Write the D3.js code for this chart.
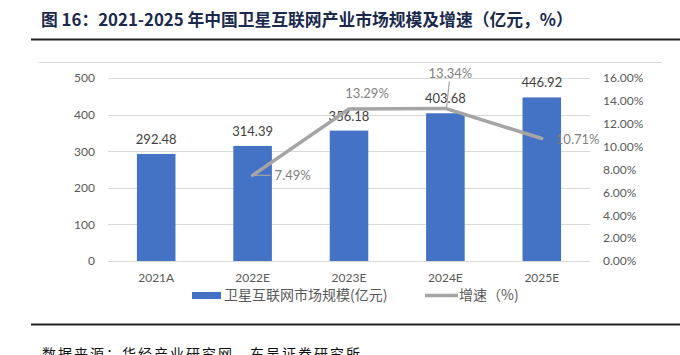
<!DOCTYPE html>
<html><head><meta charset="utf-8">
<script src="https://cdn.jsdelivr.net/npm/d3@7"></script>
<style>
body{margin:0;background:#fff;}
svg{display:block;}
text{font-family:Lato,"Noto Sans CJK SC",sans-serif;}
</style></head>
<body>
<svg id="c" width="680" height="355"></svg>
<script>
const categories = ["2021A","2022E","2023E","2024E","2025E"];
const marketSize = [292.48,314.39,356.18,403.68,446.92];
const growth = [null,7.49,13.29,13.34,10.71];
const leftTicks = [0,100,200,300,400,500];
const rightTicks = [0,2,4,6,8,10,12,14,16];
const titleText = "图 16：2021-2025 年中国卫星互联网产业市场规模及增速（亿元，%）";
const sourceText = "数据来源：华经产业研究网，东吴证券研究所";
const legendBar = "卫星互联网市场规模(亿元)";
const legendLine = "增速（%)";

const svg = d3.select("#c");
const x = d3.scaleBand().domain(categories).range([108,590]).paddingInner(0.6).paddingOuter(0.3);
const yL = d3.scaleLinear().domain([0,500]).range([261,78]);
const yR = d3.scaleLinear().domain([0,16]).range([261,78]);

// title
svg.append("text").attr("x",41).attr("y",26).attr("font-size",16.8).attr("font-weight","bold")
  .attr("fill","#1a2a4d").style("font-family",'"Noto Sans CJK SC",sans-serif').text(titleText);
svg.append("line").attr("x1",31).attr("x2",680).attr("y1",39.5).attr("y2",39.5).attr("stroke","#222").attr("stroke-width",2);
// chart top border
svg.append("line").attr("x1",39).attr("x2",662).attr("y1",62.5).attr("y2",62.5).attr("stroke","#d9d9d9").attr("stroke-width",1);

// gridlines
svg.append("g").selectAll("line").data(leftTicks).join("line")
  .attr("x1",108).attr("x2",590).attr("y1",d=>Math.round(yL(d))+0.5).attr("y2",d=>Math.round(yL(d))+0.5)
  .attr("stroke","#d9d9d9").attr("stroke-width",1);

// left axis
const axL = d3.axisLeft(yL).tickValues(leftTicks).tickSize(0).tickPadding(0);
const gL = svg.append("g").attr("transform","translate(95,0)").call(axL);
gL.select(".domain").remove();
gL.selectAll("text").attr("font-size",12).attr("fill","#595959").style("font-family","Lato,sans-serif");

// right axis
const axR = d3.axisRight(yR).tickValues(rightTicks).tickSize(0).tickPadding(0).tickFormat(d=>d.toFixed(2)+"%");
const gR = svg.append("g").attr("transform","translate(603,0)").call(axR);
gR.select(".domain").remove();
gR.selectAll("text").attr("font-size",12).attr("fill","#595959").style("font-family","Lato,sans-serif");

// x axis
const axX = d3.axisBottom(x).tickSize(0).tickPadding(0);
const gX = svg.append("g").attr("transform","translate(0,273)").call(axX);
gX.select(".domain").remove();
gX.selectAll("text").attr("font-size",12).attr("fill","#595959").style("font-family","Lato,sans-serif");

// bars
svg.append("g").selectAll("rect").data(marketSize).join("rect")
  .attr("x",(d,i)=>x(categories[i])).attr("width",x.bandwidth())
  .attr("y",d=>yL(d)).attr("height",d=>yL(0)-yL(d)).attr("fill","#4472c4");
svg.append("g").selectAll("text").data(marketSize).join("text")
  .attr("x",(d,i)=>x(categories[i])+x.bandwidth()/2).attr("y",d=>yL(d)-10)
  .attr("text-anchor","middle").attr("font-size",13).attr("fill","#404040").text(d=>d.toFixed(2));

// line
const pts = growth.map((g,i)=>g==null?null:{c:categories[i],v:g}).filter(d=>d);
const cx = d=>x(d.c)+x.bandwidth()/2;
svg.append("path").datum(pts)
  .attr("d",d3.line().x(cx).y(d=>yR(d.v)))
  .attr("fill","none").attr("stroke","#a5a5a5").attr("stroke-width",3.5).attr("stroke-linecap","round").attr("stroke-linejoin","round");

// line labels
const lab = svg.append("g").attr("font-size",13).attr("fill","#7f7f7f");
// 7.49%
let p = pts[0];
lab.append("line").attr("x1",cx(p)).attr("y1",yR(p.v)).attr("x2",cx(p)+18).attr("y2",yR(p.v)).attr("stroke","#a5a5a5").attr("stroke-width",1.2);
lab.append("text").attr("x",cx(p)+22).attr("y",yR(p.v)+5).text(p.v.toFixed(2)+"%");
// 13.29%
p = pts[1];
lab.append("text").attr("x",cx(p)+18).attr("y",yR(p.v)-11).attr("text-anchor","middle").text(p.v.toFixed(2)+"%");
// 13.34%
p = pts[2];
lab.append("line").attr("x1",cx(p)+1).attr("y1",yR(p.v)).attr("x2",cx(p)+4).attr("y2",yR(p.v)-27).attr("stroke","#a5a5a5").attr("stroke-width",1.2);
lab.append("text").attr("x",cx(p)+5).attr("y",yR(p.v)-30).attr("text-anchor","middle").text(p.v.toFixed(2)+"%");
// 10.71%
p = pts[3];
lab.append("text").attr("x",cx(p)+14).attr("y",yR(p.v)+5).text(p.v.toFixed(2)+"%");

// legend
const lg = svg.append("g");
lg.append("rect").attr("x",192).attr("y",292).attr("width",29).attr("height",7).attr("fill","#4472c4");
lg.append("text").attr("x",224).attr("y",300).attr("font-size",14).attr("fill","#595959").style("font-family",'"Noto Sans CJK SC",sans-serif').text(legendBar);
lg.append("line").attr("x1",425).attr("x2",458).attr("y1",295.5).attr("y2",295.5).attr("stroke","#a5a5a5").attr("stroke-width",3.5);
lg.append("text").attr("x",459).attr("y",300).attr("font-size",14).attr("fill","#595959").style("font-family",'"Noto Sans CJK SC",sans-serif').text(legendLine);

// bottom rule + source
svg.append("line").attr("x1",31).attr("x2",680).attr("y1",324.5).attr("y2",324.5).attr("stroke","#222").attr("stroke-width",2);
svg.append("text").attr("x",42).attr("y",359).attr("font-size",14).attr("fill","#111").attr("letter-spacing",2)
  .style("font-family",'"Noto Sans CJK SC",sans-serif').text(sourceText);
</script>
</body></html>
